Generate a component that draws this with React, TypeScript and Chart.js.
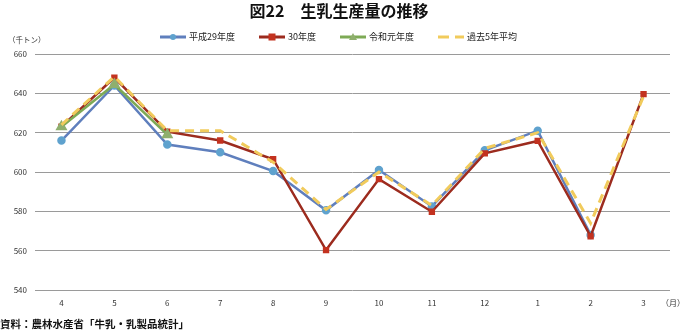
import React, { useEffect, useRef } from "react";
import { Chart, registerables } from "chart.js";

Chart.register(...registerables);

const months = ["4", "5", "6", "7", "8", "9", "10", "11", "12", "1", "2", "3"];
const h29: (number | null)[] = [616, 644, 614, 610, 600.5, 580.5, 601, 582.5, 611, 621, 568, null];
const h30: (number | null)[] = [623, 648, 620.5, 616, 606.5, 560.3, 596.4, 579.8, 609.5, 615.8, 567.3, 639.6];
const r1: (number | null)[] = [623, 644.5, 619, null, null, null, null, null, null, null, null, null];
const avg5: (number | null)[] = [624, 648.5, 621, 621, 605, 581, 600, 583, 612, 620, 574, 638.5];
const seriesNames = ["平成29年度", "30年度", "令和元年度", "過去5年平均"];
const yTicks = [540, 560, 580, 600, 620, 640, 660];

const titleText = "図22　生乳生産量の推移";
const unitText = "（千トン）";
const monthUnit = "（月）";
const sourceText = "資料：農林水産省「牛乳・乳製品統計」";

const FONT = '"Noto Sans CJK JP", "Noto Sans", sans-serif';

const colors = {
  blueLine: "#5F7FBD",
  blueMark: "#5FA2CE",
  redLine: "#9C2B1E",
  redMark: "#C3321F",
  greenLine: "#7DAA55",
  greenMark: "#8FAF6E",
  yellow: "#F1CB5C",
};

const annotPlugin = {
  id: "annot",
  afterDraw(chart: any) {
    const ctx = chart.ctx as CanvasRenderingContext2D;
    ctx.save();
    // title
    ctx.fillStyle = "#111";
    ctx.font = `bold 16px ${FONT}`;
    ctx.textAlign = "center";
    ctx.textBaseline = "middle";
    ctx.fillText(titleText, 339, 11);
    // unit
    ctx.font = `7.5px ${FONT}`;
    ctx.textAlign = "left";
    ctx.fillStyle = "#333";
    ctx.fillText(unitText, 8, 40);
    ctx.font = `8px ${FONT}`;
    ctx.fillText(monthUnit, 661, 303);
    // source
    ctx.font = `bold 10.5px ${FONT}`;
    ctx.fillStyle = "#111";
    ctx.fillText(sourceText, 0, 324);

    // legend
    ctx.font = `9px ${FONT}`;
    const lineLen = 26;
    const gapText = 3;
    const gapItem = 24;
    const widths = seriesNames.map((n) => lineLen + gapText + ctx.measureText(n).width);
    const total = widths.reduce((a, b) => a + b, 0) + gapItem * (seriesNames.length - 1);
    let x = 338.5 - total / 2;
    const y = 37;
    const styles = [
      { line: colors.blueLine, mark: colors.blueMark, kind: "circle" },
      { line: colors.redLine, mark: colors.redMark, kind: "rect" },
      { line: colors.greenLine, mark: colors.greenMark, kind: "triangle" },
      { line: colors.yellow, mark: null, kind: "dash" },
    ];
    seriesNames.forEach((name, i) => {
      const s = styles[i];
      ctx.strokeStyle = s.line;
      ctx.lineWidth = 3;
      ctx.setLineDash(s.kind === "dash" ? [11, 6] : []);
      ctx.beginPath();
      ctx.moveTo(x, y);
      ctx.lineTo(x + lineLen, y);
      ctx.stroke();
      ctx.setLineDash([]);
      const cx = x + lineLen / 2;
      if (s.kind === "circle") {
        ctx.fillStyle = s.mark!;
        ctx.beginPath();
        ctx.arc(cx, y, 3, 0, Math.PI * 2);
        ctx.fill();
      } else if (s.kind === "rect") {
        ctx.fillStyle = s.mark!;
        ctx.fillRect(cx - 3.5, y - 3.5, 7, 7);
      } else if (s.kind === "triangle") {
        ctx.fillStyle = s.mark!;
        ctx.beginPath();
        ctx.moveTo(cx, y - 4);
        ctx.lineTo(cx + 4, y + 3);
        ctx.lineTo(cx - 4, y + 3);
        ctx.closePath();
        ctx.fill();
      }
      ctx.fillStyle = "#222";
      ctx.textAlign = "left";
      ctx.textBaseline = "middle";
      ctx.fillText(name, x + lineLen + gapText, y);
      x += widths[i] + gapItem;
    });
    ctx.restore();
  },
};

export default function App() {
  const ref = useRef<HTMLCanvasElement>(null);
  useEffect(() => {
    if (!ref.current) return;
    const chart = new Chart(ref.current, {
      type: "line",
      data: {
        labels: months,
        datasets: [
          {
            label: seriesNames[0],
            data: h29,
            borderColor: colors.blueLine,
            backgroundColor: colors.blueMark,
            pointBackgroundColor: colors.blueMark,
            pointBorderColor: colors.blueMark,
            pointStyle: "circle",
            pointRadius: 3,
            borderWidth: 2.5,
            order: 3,
          },
          {
            label: seriesNames[1],
            data: h30,
            borderColor: colors.redLine,
            backgroundColor: colors.redMark,
            pointBackgroundColor: colors.redMark,
            pointBorderColor: colors.redMark,
            pointStyle: "rect",
            pointRadius: 4.5,
            pointBorderWidth: 0,
            borderWidth: 2.5,
            order: 2,
          },
          {
            label: seriesNames[2],
            data: r1,
            borderColor: colors.greenLine,
            backgroundColor: colors.greenMark,
            pointBackgroundColor: colors.greenMark,
            pointBorderColor: colors.greenMark,
            pointStyle: "triangle",
            pointRadius: 4.5,
            borderWidth: 2.5,
            order: 1,
          },
          {
            label: seriesNames[3],
            data: avg5,
            borderColor: colors.yellow,
            backgroundColor: colors.yellow,
            pointRadius: 0,
            borderWidth: 3,
            borderDash: [9, 6],
            order: 0,
          },
        ],
      },
      options: {
        animation: false,
        responsive: false,
        maintainAspectRatio: false,
        spanGaps: false,
        layout: { padding: { left: 0, right: 13, top: 54, bottom: 0 } },
        plugins: {
          legend: { display: false },
          title: { display: false },
          tooltip: { enabled: false },
        },
        scales: {
          x: {
            offset: true,
            grid: { display: false, drawTicks: false, offset: true },
            border: { display: false },
            ticks: {
              color: "#333",
              font: { family: FONT, size: 8 },
              padding: 8,
              maxRotation: 0,
              autoSkip: false,
            },
            afterFit: (s: any) => {
              s.height = 42;
            },
          },
          y: {
            min: 540,
            max: 660,
            afterBuildTicks: (s: any) => {
              s.ticks = yTicks.map((v) => ({ value: v }));
            },
            grid: { color: "#9a9a9a", lineWidth: 1, drawTicks: false },
            border: { display: false },
            ticks: {
              color: "#333",
              font: { family: FONT, size: 8 },
              padding: 8,
            },
            afterFit: (s: any) => {
              s.width = 35;
            },
          },
        },
      },
      plugins: [annotPlugin],
    });
    return () => chart.destroy();
  }, []);
  return (
    <div style={{ position: "absolute", left: 0, top: 0, width: 683, height: 332, background: "#fff" }}>
      <canvas ref={ref} width={683} height={332} style={{ width: 683, height: 332, display: "block" }} />
    </div>
  );
}
